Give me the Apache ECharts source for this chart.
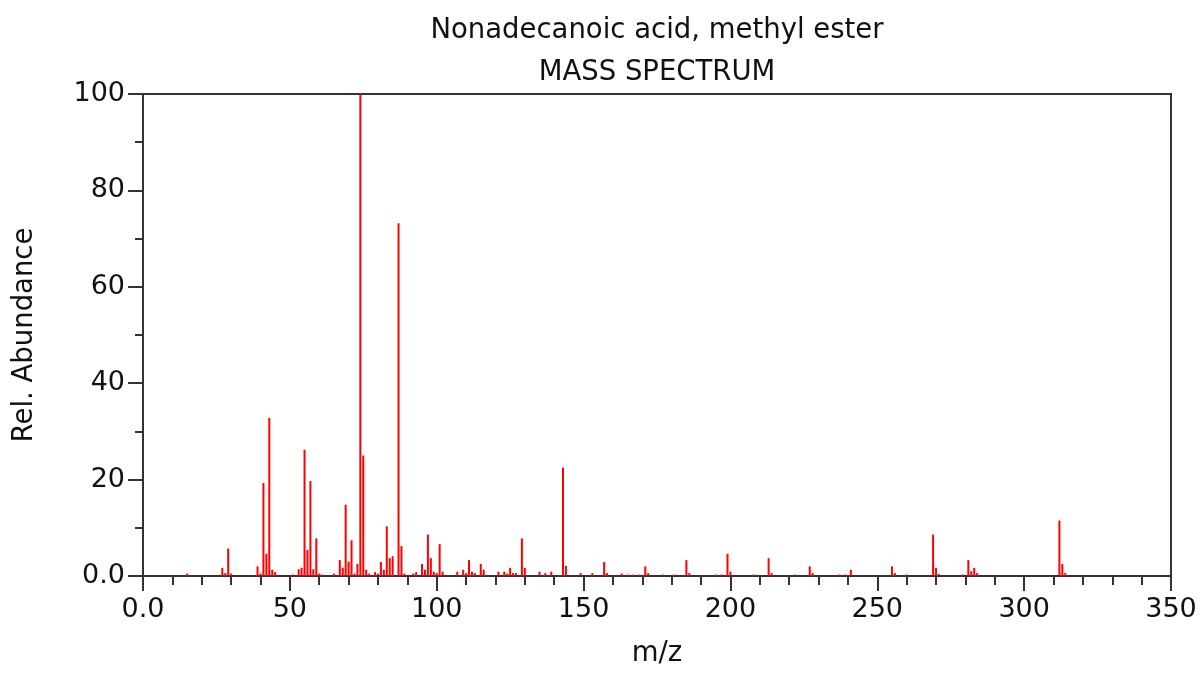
<!DOCTYPE html>
<html>
<head>
<meta charset="utf-8">
<script src="https://cdn.jsdelivr.net/npm/echarts@6/dist/echarts.min.js"></script>
<style>
html,body{margin:0;padding:0;background:#fff;overflow:hidden;}
#chart{width:1201px;height:673px;}
</style>
</head>
<body>
<div id="chart"></div>
<script>
// Chart text
const titleLine1 = 'Nonadecanoic acid, methyl ester';
const titleLine2 = 'MASS SPECTRUM';
const xAxisName = 'm/z';
const yAxisName = 'Rel. Abundance';

// Peaks: m/z values and relative abundances
const mzValues = [15,27,28,29,30,39,40,41,42,43,44,45,51,53,54,55,56,57,58,59,60,61,65,67,68,69,70,71,72,73,74,75,76,77,79,80,81,82,83,84,85,87,88,89,92,93,95,96,97,98,99,100,101,102,107,109,110,111,112,113,115,116,121,123,124,125,126,127,129,130,135,137,139,143,144,149,153,157,158,163,165,167,169,171,172,177,181,185,186,195,197,199,200,208,213,214,222,227,228,237,239,241,255,256,260,269,270,271,279,281,282,283,284,312,313,314];
const abundances = [0.5,1.7,0.6,5.7,0.5,2.0,0.5,19.3,4.6,32.8,1.3,0.8,0.3,1.4,1.7,26.2,5.4,19.7,1.4,7.8,0.5,0.3,0.5,3.3,1.7,14.8,3.0,7.4,0.5,2.5,100,25.0,1.3,0.5,0.8,0.5,2.9,1.3,10.3,3.7,4.1,73.2,6.2,0.5,0.5,0.8,2.5,1.3,8.6,3.7,0.9,0.6,6.6,0.9,0.9,1.3,0.6,3.3,0.9,0.6,2.5,1.3,0.9,0.9,0.5,1.7,0.6,0.6,7.8,1.7,0.9,0.6,0.9,22.5,2.1,0.6,0.6,2.9,0.6,0.5,0.3,0.3,0.3,2.0,0.6,0.3,0.3,3.3,0.6,0.3,0.3,4.6,0.9,0.3,3.7,0.6,0.3,2.0,0.6,0.3,0.3,1.3,2.0,0.6,0.3,8.6,1.7,0.4,0.3,3.3,1.0,1.7,0.6,11.5,2.5,0.6];

// Axis ranges / ticks
const xMin = 0, xMax = 350, xInterval = 50;
const yMin = 0, yMax = 100, yInterval = 20;

const fmt = v => (v === 0 ? '0.0' : String(v));
const FONT = 'DejaVu Sans';
const AXIS_COLOR = '#333333';
const TEXT_COLOR = '#111111';

const chart = echarts.init(document.getElementById('chart'), null, {renderer: 'canvas', width: 1201, height: 673});
chart.setOption({
  animation: false,
  backgroundColor: '#ffffff',
  title: [
    {text: titleLine1, left: 652, top: 12, textAlign: 'center',
     textStyle: {fontFamily: FONT, fontSize: 27.5, fontWeight: 'normal', color: TEXT_COLOR}},
    {text: titleLine2, left: 652, top: 54, textAlign: 'center',
     textStyle: {fontFamily: FONT, fontSize: 27.5, fontWeight: 'normal', color: TEXT_COLOR}}
  ],
  grid: {left: 143, top: 94, width: 1028, height: 490, show: true,
         borderColor: AXIS_COLOR, borderWidth: 2, backgroundColor: 'transparent'},
  xAxis: {
    type: 'value', min: xMin, max: xMax, interval: xInterval,
    name: xAxisName, nameLocation: 'middle', nameGap: 64,
    nameTextStyle: {fontFamily: FONT, fontSize: 27.5, color: TEXT_COLOR},
    axisLine: {show: true, onZero: false, lineStyle: {color: AXIS_COLOR, width: 2}},
    axisTick: {show: true, inside: false, length: 15, lineStyle: {color: AXIS_COLOR, width: 2}},
    minorTick: {show: true, splitNumber: 5, length: 9, lineStyle: {color: AXIS_COLOR, width: 2}},
    splitLine: {show: false},
    axisLabel: {formatter: fmt, fontFamily: FONT, fontSize: 27, color: TEXT_COLOR, margin: 20}
  },
  yAxis: {
    type: 'value', min: yMin, max: yMax, interval: yInterval,
    name: yAxisName, nameLocation: 'middle', nameGap: 104, nameRotate: 90,
    nameTextStyle: {fontFamily: FONT, fontSize: 27.5, color: TEXT_COLOR},
    axisLine: {show: true, lineStyle: {color: AXIS_COLOR, width: 2}},
    axisTick: {show: true, inside: false, length: 15, lineStyle: {color: AXIS_COLOR, width: 2}},
    minorTick: {show: true, splitNumber: 2, length: 8, lineStyle: {color: AXIS_COLOR, width: 2}},
    splitLine: {show: false},
    axisLabel: {formatter: fmt, fontFamily: FONT, fontSize: 27, color: TEXT_COLOR, margin: 18}
  },
  series: [{
    type: 'bar',
    data: mzValues.map((m, i) => [m, abundances[i]]),
    barWidth: 2,
    itemStyle: {color: '#ff0000'},
    z: 1
  }]
});
</script>
</body>
</html>
